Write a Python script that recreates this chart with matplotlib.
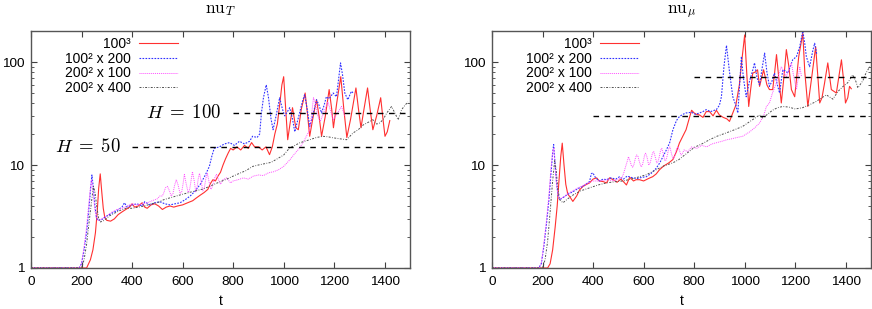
import matplotlib
matplotlib.use("Agg")
import matplotlib.pyplot as plt
from matplotlib.ticker import FixedLocator, LogLocator, NullFormatter
import numpy as np

plt.rcParams['font.family'] = ['Liberation Sans', 'DejaVu Sans']
plt.rcParams['mathtext.fontset'] = 'cm'

# ---------------- data ----------------
labels = ['100³', '100² x 200', '200² x 100', '200² x 400']
titles = [r'$\mathrm{nu}_T$', r'$\mathrm{nu}_\mu$']
xticks = [0, 200, 400, 600, 800, 1000, 1200, 1400]

# nu_T panel
t_red_T = [0, 200, 220, 235, 245, 255, 262, 268, 274, 280, 286, 292, 300, 315, 330, 345, 360, 375,
           390, 400, 410, 425, 440, 450, 460, 475, 490, 505, 520, 535, 550, 565, 580, 600, 620, 640,
           655, 670, 685, 700, 710, 720, 730, 740, 750, 760, 770, 780, 790, 800, 815, 830, 845, 860,
           873, 885, 900, 915, 930, 944, 955, 965, 975, 985, 993, 1000, 1008, 1016, 1025, 1035, 1048,
           1058, 1070, 1085, 1095, 1103, 1115, 1130, 1140, 1150, 1165, 1180, 1190, 1197, 1210, 1226,
           1238, 1250, 1265, 1286, 1296, 1306, 1318, 1332, 1342, 1353, 1368, 1384, 1393, 1401, 1410,
           1420]
red_T = [1, 1, 1.0, 1.2, 1.5, 2.2, 3.5, 6, 8.2, 5.5, 3.8, 3.1, 2.9, 2.85, 3.0, 3.3, 3.5, 3.7,
         3.9, 4.2, 3.9, 4.0, 4.3, 3.9, 3.8, 4.1, 4.2, 4.0, 3.7, 3.9, 4.0, 3.9, 4.0, 4.1, 4.3, 4.5,
         4.8, 5.1, 5.4, 5.8, 6.6, 7.2, 7.0, 7.8, 8.5, 10, 11.5, 13, 14.5, 14, 15, 14, 15.5, 14.5,
         16.5, 15, 15, 14, 15, 12.6, 15, 20, 25, 40, 60, 72, 35, 17.6, 25, 36, 23,
         22, 35, 50, 30, 19, 28, 43, 30, 19, 30, 54, 35, 23, 40, 72,
         35, 18.5, 28, 56, 35, 23, 35, 56, 35, 22, 30, 45, 28, 19, 21,
         27]

t_blue_T = [0, 190, 200, 210, 220, 228, 235, 241, 247, 253, 259, 265, 280, 300, 320, 340, 360, 370,
            380, 400, 420, 440, 450, 470, 490, 510, 530, 550, 570, 590, 610, 630, 650, 670, 690, 706,
            715, 725, 746, 765, 786, 805, 825, 845, 865, 877, 895, 905, 912, 920, 931, 940, 950, 958,
            970, 984, 995, 1004, 1015, 1024, 1035, 1044, 1060, 1075, 1083, 1093, 1103, 1115, 1130,
            1140, 1150, 1160, 1169, 1180, 1196, 1209, 1218, 1225, 1233, 1242, 1254, 1268, 1275]
blue_T = [1, 1, 1.1, 1.5, 2.2, 3.5, 5.5, 8.0, 6.0, 4.0, 3.1, 2.9, 2.95, 3.2, 3.4, 3.6, 3.9, 4.3,
          3.9, 4.1, 4.2, 4.0, 4.4, 4.1, 4.3, 4.4, 4.2, 4.1, 4.2, 4.3, 4.6, 5.0, 5.6, 6.5, 8.0, 9.7,
          12, 14.5, 15, 16, 16.5, 15.5, 17, 16, 17, 19, 18.5, 20, 32, 45, 60, 45, 28, 22,
          30, 45, 35, 30, 33, 36, 28, 21, 30, 42, 48, 35, 23.7, 30, 43,
          38, 32, 38, 46, 44, 50, 46, 70, 98, 75, 50, 43, 52, 50]

t_mag_T = [0, 190, 200, 210, 220, 228, 235, 240, 246, 252, 258, 265, 280, 300, 320, 340, 360, 380,
           400, 420, 440, 460, 480, 500, 510, 520, 526, 532, 540, 548, 555, 562, 568, 575, 582, 590,
           596, 602, 607, 614, 622, 628, 634, 639, 646, 652, 657, 662, 667, 674, 680, 686, 692, 698,
           705, 712, 718, 726, 734, 742, 750, 760, 774, 790, 800, 820, 840, 860,
           880, 900, 920, 940, 960, 980, 1000, 1024, 1045, 1063, 1083, 1103, 1110, 1118, 1125, 1135,
           1145, 1160, 1175, 1185, 1196, 1210, 1229, 1242]
mag_T = [1, 1, 1.1, 1.6, 2.5, 4, 6, 7.2, 5.5, 3.8, 3.1, 2.9, 3.0, 3.2, 3.5, 3.7, 3.8, 4.0,
         4.2, 4.1, 4.2, 4.3, 4.5, 4.7, 5.0, 5.0, 5.4, 6.0, 6.2, 5.6, 5.0, 5.3, 6.3, 7.2, 6.4, 5.3,
         5.4, 6.6, 8.1, 6.6, 5.4, 5.8, 7.2, 8.6, 7.0, 5.5, 6.0, 7.4, 8.3, 6.8, 5.6, 6.0, 7.4, 8.3,
         6.8, 5.8, 6.2, 7.4, 8.1, 7.2, 6.5, 7.2, 7.5, 6.7, 7.0, 7.2, 7.5, 7.3,
         7.8, 8.0, 7.9, 8.4, 8.6, 9.0, 9.7, 11.2, 13, 14.6, 17.6, 22, 30, 45, 40, 30,
         26.5, 33, 41, 34, 27.5, 31, 37, 30]

t_gray_T = [0, 200, 210, 220, 230, 240, 247, 253, 260, 268, 275, 290, 310, 330, 350, 375, 400, 425,
            450, 475, 500, 525, 550, 575, 600, 625, 650, 675, 700, 725, 750, 775, 800, 825, 850, 878,
            900, 925, 950, 975, 1000, 1024, 1045, 1063, 1083, 1103, 1130, 1155, 1175, 1194, 1220,
            1249, 1275, 1295, 1315, 1335, 1353, 1368, 1381, 1395, 1408, 1427, 1440, 1453, 1467, 1480,
            1492]
gray_T = [1, 1, 1.2, 1.7, 2.8, 4.5, 6.2, 5.5, 4.0, 3.0, 2.8, 2.9, 3.2, 3.4, 3.6, 3.8, 3.8, 3.9,
          4.0, 4.2, 4.3, 4.6, 4.8, 5.0, 5.2, 5.4, 5.6, 5.8, 6.1, 6.5, 6.9, 7.3, 7.8, 8.3, 8.8, 9.7,
          10.0, 10.3, 10.6, 11.5, 12.5, 14.7, 15.5, 16.4, 17, 17.6, 18.5, 19, 18.8, 18.4, 18,
          17.6, 20.5, 22, 24.5, 26, 27.5, 25, 25.6, 28, 32, 37, 32, 27.5, 34.5, 38,
          41]

# nu_mu panel
t_red_mu = [0, 220, 230, 240, 250, 258, 265, 272, 278, 285, 292, 300, 307, 320, 335, 347, 360, 375,
            386, 400, 414, 425, 440, 453, 465, 480, 495, 510, 520, 532, 545, 560, 570, 584, 600, 615,
            625, 636, 650, 663, 680, 700, 716, 730, 742, 755, 768, 780, 790, 800, 810, 821, 835, 848,
            861, 875, 888, 900, 915, 930, 940, 953, 965, 979, 990, 1000, 1008, 1016, 1024, 1032, 1042,
            1051, 1059, 1067, 1075, 1088, 1098, 1111, 1120, 1126, 1135, 1145, 1155, 1165, 1175, 1185,
            1198, 1214, 1230, 1238, 1250, 1265, 1281, 1290, 1297, 1306, 1316, 1329, 1343, 1363, 1372,
            1383, 1392, 1399, 1408, 1415, 1422]
red_mu = [1, 1, 1.1, 1.5, 2.5, 4, 7, 12, 16.3, 10, 6.5, 5.2, 4.96, 4.43, 5.0, 5.75, 6.2, 6.5,
          6.7, 7.3, 7.5, 7.0, 6.9, 6.7, 7.5, 7.2, 6.8, 7.3, 6.9, 6.4, 7.6, 7.0, 7.2, 7.2, 7.0, 7.3,
          7.5, 7.7, 8.2, 9, 9.8, 10.5, 11.3, 13.5, 16.4, 19, 22, 28, 34, 32, 31, 30.6, 29, 33,
          33, 30, 34, 30.6, 29, 28, 26.5, 32, 38, 60, 110, 183, 80, 37, 55, 78, 80,
          84, 58, 70, 84, 60, 54, 54, 85, 118, 70, 40, 70, 132, 90, 54,
          46, 113, 190, 80, 37, 70, 141, 70, 40, 45, 62, 98, 54, 50, 70,
          105, 65, 40, 45, 58, 55]

t_blue_mu = [0, 185, 195, 205, 215, 225, 233, 240, 244, 250, 256, 262, 268, 285, 300, 320, 340, 360,
             375, 386, 393, 399, 410, 425, 440, 453, 470, 490, 505, 520, 535, 557, 575, 595, 611, 630,
             650, 664, 680, 690, 703, 716, 730, 742, 755, 768, 790, 805, 821, 835, 848, 865, 888, 900,
             908, 918, 928, 940, 953, 965, 973, 980, 987, 995, 1006, 1019, 1030, 1039, 1049, 1059,
             1070, 1079, 1088, 1098, 1108, 1118, 1128, 1138, 1151, 1161, 1171, 1190, 1205, 1218, 1230,
             1238, 1244, 1257, 1270, 1277, 1285]
blue_mu = [1, 1, 1.1, 1.6, 2.6, 4.5, 8, 13, 15.8, 10, 6.5, 5.0, 4.6, 4.9, 5.2, 5.5, 5.9, 6.2,
           6.6, 6.9, 8.2, 8.4, 7.5, 7.0, 7.3, 7.2, 7.5, 7.3, 7.7, 7.3, 7.8, 7.5, 7.4, 7.6, 7.7, 8.3,
           9.3, 10.5, 12.5, 14, 16.4, 22, 27, 29.6, 31, 32, 32.5, 31, 32, 33, 34.5, 33, 34.5, 38,
           46, 90, 145, 80, 46, 38, 32, 60, 113, 70, 46, 65, 80, 98, 70, 60,
           90, 122, 80, 58, 65, 78, 62, 50, 84, 82, 78, 105, 113, 141, 200,
           150, 113, 90, 130, 152, 120]

t_mag_mu = [0, 185, 195, 205, 215, 225, 233, 240, 245, 250, 256, 262, 268, 285, 300, 320, 340, 360,
            380, 400, 420, 440, 460, 480, 500, 515, 521, 528, 535, 540, 546, 552, 557, 562, 567, 572,
            577, 583, 590, 595, 600, 604, 608, 614, 620, 625, 630, 635, 640, 646, 652, 657, 662, 667,
            672, 678, 684, 689, 694, 699, 704, 710, 716, 721, 726, 731, 736, 742, 748, 754, 760, 775,
            790, 810, 830, 850, 870, 890, 910, 930, 950, 970, 992, 1020, 1040, 1059, 1075, 1086, 1098,
            1110, 1126, 1135, 1145, 1155, 1165, 1175, 1185, 1195, 1205, 1212, 1218, 1225]
mag_mu = [1, 1, 1.1, 1.7, 2.8, 5, 9, 13.5, 14.5, 9.5, 6.3, 5.0, 4.7, 4.9, 5.3, 5.6, 6.0, 6.3,
          6.7, 7.0, 7.0, 7.1, 7.2, 7.0, 7.3, 7.6, 8.3, 9.5, 10.8, 12, 11, 9.8, 9.5, 10.2, 11.5, 12.5,
          12.3, 10.8, 9.6, 9.9, 11.2, 12.5, 13, 11.8, 10, 10.3, 11.5, 13, 13.5, 12, 10.5, 10.8, 12, 13.8,
          14.5, 12.8, 11, 11.2, 12.5, 14.3, 15, 13, 11.5, 11.8, 13, 14.5, 15, 13.8, 12.5, 13, 14, 13.5,
          15, 14.5, 15.5, 15, 16, 16.5, 17, 17.6, 18, 18.5, 19, 21, 23, 25.6, 30, 37, 40,
          50, 63, 75, 90, 80, 72, 85, 98, 70, 54, 70, 90, 72]

t_gray_mu = [0, 200, 210, 220, 230, 240, 248, 254, 260, 268, 281, 300, 320, 350, 386, 420, 453, 490,
             519, 550, 584, 611, 630, 650, 680, 716, 740, 755, 780, 800, 830, 861, 890, 927, 960, 992,
             1031, 1059, 1071, 1090, 1110, 1130, 1151, 1175, 1200, 1229, 1257, 1280, 1300, 1323, 1349,
             1370, 1389, 1408, 1428, 1440, 1448, 1468, 1480, 1495]
gray_mu = [1, 1, 1.2, 1.8, 3.5, 7, 11, 9, 6, 4.6, 4.3, 4.7, 5.1, 5.6, 6.0, 6.4, 6.7, 6.9,
           7.0, 7.3, 7.7, 8.05, 8.5, 9.0, 9.8, 10.5, 11.3, 12.1, 13.5, 14.8, 16, 17.6, 19, 20.5, 22, 23.7,
           27.5, 30.6, 28.7, 31, 34, 36, 37, 36.5, 35, 36, 38.5, 41, 44, 48, 43.6,
           52, 57.8, 63, 75, 65, 56, 66, 78, 90]

# dashed reference levels: (level, t start, t end)
hlevels_T = [15, 32]
hstart_T = [400, 800]
hlevels_mu = [30, 72]
hstart_mu = [400, 800]
hend = 1480
hlabels_T = [r'$H\;=\;50$', r'$H\;=\;100$']
hlabel_x_T = [355, 755]

# ---------------- drawing ----------------
styles = [dict(color='#ff3030', lw=0.8, ls='-'),
          dict(color='#3030ff', lw=0.8, ls=(0, (1.5, 1.2))),
          dict(color='#ff50ff', lw=0.7, ls=(0, (1, 1))),
          dict(color='#505050', lw=0.7, ls=(0, (2, 1.5, 0.8, 1.5)))]

fig = plt.figure(figsize=(8.72, 3.09), dpi=100)
ax1 = fig.add_axes([31 / 872, 41 / 309, 379 / 872, 237 / 309])
ax2 = fig.add_axes([492 / 872, 41 / 309, 379 / 872, 237 / 309])

panels = [
    (ax1, [(t_red_T, red_T), (t_blue_T, blue_T), (t_mag_T, mag_T), (t_gray_T, gray_T)],
     hlevels_T, hstart_T),
    (ax2, [(t_red_mu, red_mu), (t_blue_mu, blue_mu), (t_mag_mu, mag_mu), (t_gray_mu, gray_mu)],
     hlevels_mu, hstart_mu),
]

for k, (ax, series, hl, hs) in enumerate(panels):
    for (t, v), st, lab in zip(series, styles, labels):
        ax.plot(t, v, label=lab, **st)
    for lev, t0 in zip(hl, hs):
        ax.plot([t0, hend], [lev, lev], color='black', lw=1.0, ls=(0, (4, 4)))

    ax.set_yscale('log')
    ax.set_xlim(0, 1500)
    ax.set_ylim(1, 200)
    ax.xaxis.set_major_locator(FixedLocator(xticks))
    ax.yaxis.set_major_locator(FixedLocator([1, 10, 100]))
    ax.yaxis.set_major_formatter(plt.FuncFormatter(lambda v, p: '%g' % v))
    ax.yaxis.set_minor_locator(LogLocator(base=10, subs=np.arange(2, 10)))
    ax.yaxis.set_minor_formatter(NullFormatter())
    ax.tick_params(which='both', direction='in', top=True, right=True,
                   labelsize=9.7, colors='#404040', labelcolor='black')
    ax.tick_params(which='major', length=4, width=0.8, pad=6)
    ax.tick_params(axis='y', which='major', pad=5)
    ax.tick_params(which='minor', length=2.5, width=0.6)
    for sp in ax.spines.values():
        sp.set_color('#555555')
        sp.set_linewidth(1.0)
    ax.set_xlabel('t', fontsize=10, labelpad=4)
    ax.text(0.5, 1 + 18 / 237, titles[k], transform=ax.transAxes, ha='center',
            va='baseline', fontsize=12.5)

    leg = ax.legend(loc='upper right', bbox_to_anchor=((178 - 31) / 379, 1 - 6 / 237),
                    frameon=False, markerfirst=False, fontsize=10, handlelength=2.8,
                    handletextpad=0.6, labelspacing=0.05, borderpad=0, borderaxespad=0)

for lab, x, lev in zip(hlabels_T, hlabel_x_T, hlevels_T):
    ax1.text(x, lev, lab, ha='right', va='center', fontsize=13.5)

fig.savefig('out.png', dpi=100)
